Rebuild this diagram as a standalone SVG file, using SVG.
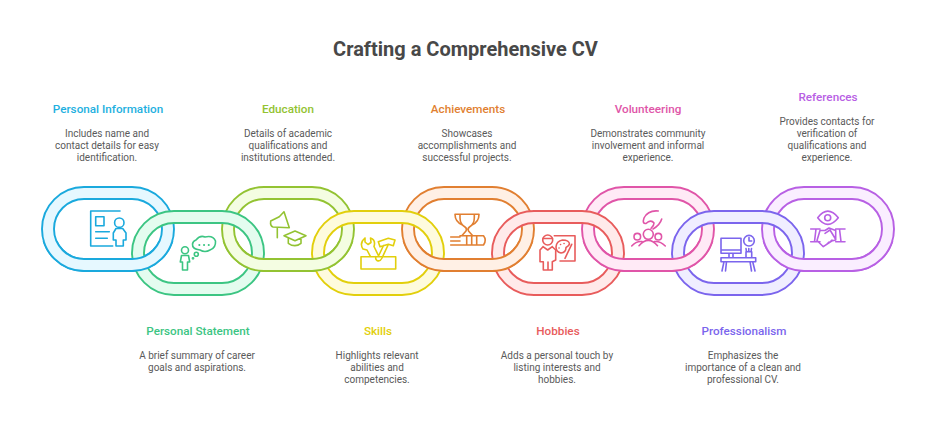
<svg xmlns="http://www.w3.org/2000/svg" width="931" height="433" viewBox="0 0 931 433">
<style>
text{font-family:Roboto,"Liberation Sans",sans-serif;text-anchor:middle}
.title{font-size:20px;font-weight:700;fill:#484848}
.h{font-size:11.700px;font-weight:500}
.d{font-size:10px;fill:#5a5a5a}
.i{fill:none;stroke-width:1.6;stroke-linecap:round;stroke-linejoin:round}
.r{stroke-width:1.9}
.c1{stroke:#1AA9DD}.f1{fill:#E6F8FF}.t1{fill:#1EB0E0}
.c2{stroke:#3CC583}.f2{fill:#E4FCEF}.t2{fill:#3CC583}
.c3{stroke:#93C332}.f3{fill:#F4FDE2}.t3{fill:#93C332}
.c4{stroke:#E2CF0C}.f4{fill:#FEFBDD}.t4{fill:#E2CF0C}
.c5{stroke:#E17F31}.f5{fill:#FFF0E5}.t5{fill:#E17F31}
.c6{stroke:#E85C5C}.f6{fill:#FFEAEA}.t6{fill:#E85C5C}
.c7{stroke:#E055A8}.f7{fill:#FFEAF6}.t7{fill:#E055A8}
.c8{stroke:#7B65ED}.f8{fill:#F0EEFF}.t8{fill:#7B65ED}
.c9{stroke:#B860E4}.f9{fill:#FAEEFF}.t9{fill:#B860E4}
</style>
<defs>
<path id="ring" fill-rule="evenodd" d="M42 0H90A42 42 0 0 1 90 84H42A42 42 0 0 1 42 0ZM42 12A30 30 0 0 0 42 72H90A30 30 0 0 0 90 12Z"/>
<clipPath id="low"><rect x="0" y="241" width="931" height="192"/></clipPath>
</defs>
<rect width="931" height="433" fill="#fff"/>
<text class="title" x="465.500" y="56">Crafting a Comprehensive CV</text>

<g id="node-personal-information">
<use href="#ring" x="42" y="187" class="r c1 f1"/>
<g class="i c1"><path d="M120 211H90.700V246H112.700M95.700 216.700H104V225.700H95.700ZM95.700 231.700H109.300M95.700 238.300H107.300"/><circle cx="119.300" cy="222.700" r="4.700"/><path d="M116 228.500L113.300 233V240H116V246H123.300V240H126V233L122.700 228.500Z"/></g>
<text class="h t1" x="108" y="113">Personal Information</text>
<text class="d"><tspan x="107" y="137">Includes name and</tspan><tspan x="107" y="149">contact details for easy</tspan><tspan x="107" y="161">identification.</tspan></text>
</g>
<g id="node-education">
<use href="#ring" x="222" y="187" class="r c3 f3"/>
<g class="i c3"><path d="M277.300 237.700V228M279.300 216.700L270.700 221Q270 226 273 227L289.300 227.700L284 211.700Z"/><path d="M284 235.700L295 231L306 235.700L295 240.700ZM288.300 238.300V243.300Q295 248 301 243.300V238.300"/></g>
<text class="h t3" x="288" y="113">Education</text>
<text class="d"><tspan x="288" y="137">Details of academic</tspan><tspan x="288" y="149">qualifications and</tspan><tspan x="288" y="161">institutions attended.</tspan></text>
</g>
<g id="node-achievements">
<use href="#ring" x="402" y="187" class="r c5 f5"/>
<g class="i c5"><path d="M460 214.300H474.300V218Q474.300 224 469.500 227Q467.300 228.500 468.500 231L472.500 235.500M460 214.300V218Q460 224 465 227Q467.300 228.500 466 231L462 235.500M460 214.300H455Q455 222 462.500 225M474.300 214.300H479Q479 222 472 225"/><path d="M460 235.700H483.500Q487 240 483.500 245H460M466.700 236V245M471.700 236V245M476.700 236V245M450.700 237H460M450.700 241H460M450.700 245H460"/></g>
<text class="h t5" x="468" y="113">Achievements</text>
<text class="d"><tspan x="467" y="137">Showcases</tspan><tspan x="467" y="149">accomplishments and</tspan><tspan x="467" y="161">successful projects.</tspan></text>
</g>
<g id="node-volunteering">
<use href="#ring" x="582" y="187" class="r c7 f7"/>
<g class="i c7"><circle cx="648.300" cy="234.300" r="5"/><circle cx="637.300" cy="236.700" r="3.300"/><circle cx="658.300" cy="236.700" r="3.300"/><path d="M631.700 246Q636 241 642 241.500M665.300 246Q660.500 241 654.500 241.500M639 245.700Q648.300 235 657.500 245.700M658.300 211Q648 210 644 218Q642 224 646 223.500Q651 219 654 223Q654 226 651 228.300M661.700 219Q660 225 653 229"/></g>
<text class="h t7" x="648" y="113">Volunteering</text>
<text class="d"><tspan x="648" y="137">Demonstrates community</tspan><tspan x="648" y="149">involvement and informal</tspan><tspan x="648" y="161">experience.</tspan></text>
</g>
<g id="node-references">
<use href="#ring" x="762" y="187" class="r c9 f9"/>
<g class="i c9"><path d="M817.700 217.700Q827.700 204.500 838.300 217.700Q827.700 231 817.700 217.700Z"/><circle cx="827.700" cy="217.700" r="3"/><path d="M810.700 229H820M810.700 241.700H820M816 229L814.500 241.700M845 229H835.700M845 241.700H835.700M839.500 229L841 241.700M820 230.500H825L829 228L835.700 230.500V240L831.700 241L823.300 246.700L817 240.500L820 230.500M825 233.300L830 230L835.500 239M826.500 244.500L829 242M829.500 242.500L832 240"/></g>
<text class="h t9" x="828" y="101">References</text>
<text class="d"><tspan x="827" y="125">Provides contacts for</tspan><tspan x="827" y="137">verification of</tspan><tspan x="827" y="149">qualifications and</tspan><tspan x="827" y="161">experience.</tspan></text>
</g>
<g id="node-personal-statement">
<use href="#ring" x="132" y="211" class="r c2 f2"/>
<g class="i c2"><circle cx="185" cy="250.300" r="3.500"/><path d="M181.500 255.500L180.300 262H182.500V270H187.500V262H189.700L188.500 255.500Z"/><path d="M196 240Q200 235 205 237Q213 235 215.500 241Q216 248 210 250Q205 253 200 250Q192 249 192.500 244Q193 241 196 240Z"/><circle cx="196.300" cy="254.300" r="2"/><circle cx="193" cy="258.300" r=".6"/><path d="M199.300 245H199.400M204 245H204.100M208.700 245H208.800" stroke-width="2"/></g>
<text class="h t2" x="198" y="335">Personal Statement</text>
<text class="d"><tspan x="197" y="359">A brief summary of career</tspan><tspan x="197" y="371">goals and aspirations.</tspan></text>
</g>
<g id="node-skills">
<use href="#ring" x="312" y="211" class="r c4 f4"/>
<g class="i c4"><path d="M361 256.700H395.700V269H361ZM365 238V242L368 244.500L371 242.500L370.500 238Q376 240 374 246.500L379 256.700M365 238Q359 243 363 249L367 250L370.500 256.700M378.300 241.700L388.300 238.300L395 240L393.300 245.700L388.300 244.300L380 246.700ZM383.500 245.500L379 255M388.300 244.500L382 258Q380 262 377 260.500Q375 259 376 256.700"/></g>
<text class="h t4" x="378" y="335">Skills</text>
<text class="d"><tspan x="377" y="359">Highlights relevant</tspan><tspan x="377" y="371">abilities and</tspan><tspan x="377" y="383">competencies.</tspan></text>
</g>
<g id="node-hobbies">
<use href="#ring" x="492" y="211" class="r c6 f6"/>
<g class="i c6"><circle cx="547.700" cy="240" r="5"/><path d="M543 238.500H552.500M554.300 235.700H575V261H560M543 246.700L540 250V261.700H543.300V270H552.300V261.700L555.700 260V250L552.300 246.700M543 246.700L547.700 250L552.300 246.700M548 262V270"/><path d="M562.500 240Q569 240 569.500 244Q569 246 566 247.500Q566 252.500 561 253Q556 252 556 247Q556.500 241 562.500 240Z"/><path d="M571.700 244.300L565 258.300M560.500 244.500H560.600M564 243.500H564.100M559 248H559.100"/></g>
<text class="h t6" x="558" y="335">Hobbies</text>
<text class="d"><tspan x="557" y="359">Adds a personal touch by</tspan><tspan x="557" y="371">listing interests and</tspan><tspan x="557" y="383">hobbies.</tspan></text>
</g>
<g id="node-professionalism">
<use href="#ring" x="672" y="211" class="r c8 f8"/>
<g class="i c8"><path d="M721 238.300H741V253.300H721ZM721 250H741M729 253.300V257.700M733 253.300V257.700M721 257.700H755.700V261.700H721ZM724 261.700L722 271M726.500 261.700L725.500 271M752.700 261.700L755 271M750 261.700L751.500 271M746 251.700H751.700V257.700H746ZM746.500 251.700L746 248.500M751 251.700L751.500 248.500M748.800 251.700V248.500"/><circle cx="749" cy="240.700" r="5.300"/><path d="M749 237.500V241H751.700"/></g>
<text class="h t8" x="744" y="335">Professionalism</text>
<text class="d"><tspan x="743" y="359">Emphasizes the</tspan><tspan x="743" y="371">importance of a clean and</tspan><tspan x="743" y="383">professional CV.</tspan></text>
</g>
<g id="connectors" clip-path="url(#low)">
<use href="#ring" x="42" y="187" class="r c1 f1"/>
<use href="#ring" x="222" y="187" class="r c3 f3"/>
<use href="#ring" x="402" y="187" class="r c5 f5"/>
<use href="#ring" x="582" y="187" class="r c7 f7"/>
<use href="#ring" x="762" y="187" class="r c9 f9"/>
</g>
</svg>
